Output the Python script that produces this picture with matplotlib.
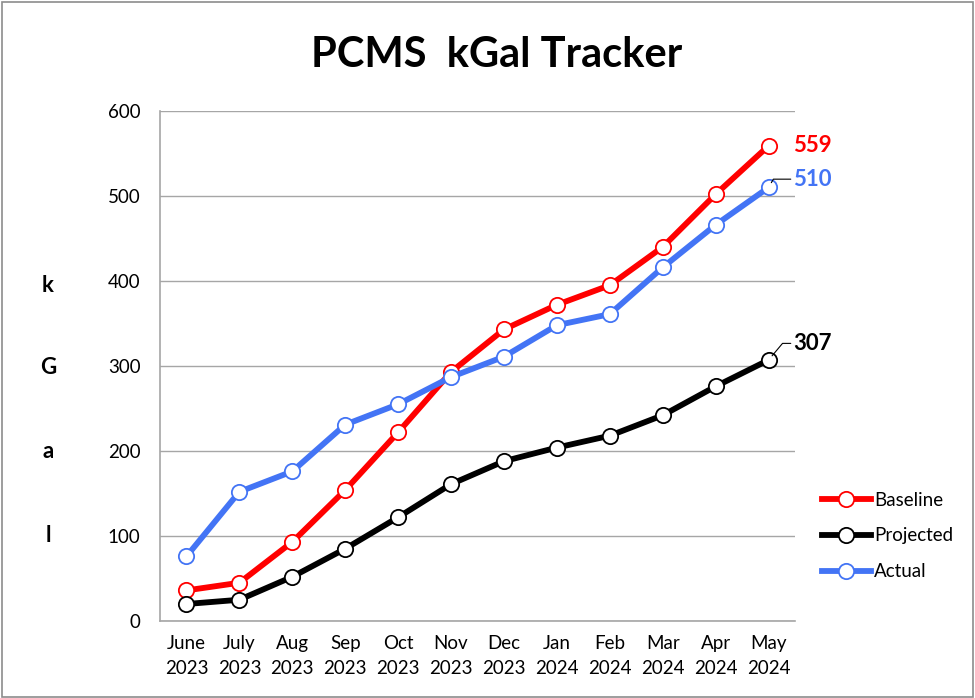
import matplotlib
matplotlib.use("Agg")
import matplotlib.pyplot as plt
from matplotlib.patches import Rectangle

months = ["June\n2023", "July\n2023", "Aug\n2023", "Sep\n2023", "Oct\n2023", "Nov\n2023",
          "Dec\n2023", "Jan\n2024", "Feb\n2024", "Mar\n2024", "Apr\n2024", "May\n2024"]
baseline = [36, 45, 93, 154, 222, 293, 343, 372, 395, 440, 502, 559]
projected = [20, 25, 52, 85, 122, 161, 188, 204, 218, 242, 276, 307]
actual = [76, 152, 176, 231, 255, 287, 311, 348, 361, 416, 466, 510]

plt.rcParams['font.family'] = ['Lato', 'DejaVu Sans']

fig = plt.figure(figsize=(9.75, 6.98), dpi=100)
ax = fig.add_axes([160/975, 1-621/698, (795-160)/975, (621-111)/698])

x = list(range(len(months)))
red = '#FF0000'
blue = '#4374F5'
black = '#000000'
for vals, col, lab in [(baseline, red, 'Baseline'), (projected, black, 'Projected'), (actual, blue, 'Actual')]:
    ax.plot(x, vals, color=col, lw=4.2, marker='o', ms=11, mfc='white', mec=col, mew=1.3,
            label=lab, zorder=3)

ax.set_xlim(-0.5, 11.5)
ax.set_ylim(0, 600)
ax.set_yticks(range(0, 601, 100))
ax.set_xticks(x)
ax.set_xticklabels(months, fontsize=13.5, linespacing=1.55)
ax.tick_params(axis='y', labelsize=13.5, length=0, pad=14)
ax.tick_params(axis='x', length=0, pad=10)
ax.grid(axis='y', color='#A6A6A6', lw=1)
ax.set_axisbelow(True)
for s in ['top', 'right']:
    ax.spines[s].set_visible(False)
for s in ['left', 'bottom']:
    ax.spines[s].set_color('#A6A6A6')
    ax.spines[s].set_linewidth(1.2)

# data labels
ax.annotate(str(baseline[-1]), xy=(11, baseline[-1]), xytext=(18, 0), textcoords='offset points',
            color=red, fontsize=16, fontweight='bold', va='center', ha='left')
ax.annotate(str(actual[-1]), xy=(11, actual[-1]), xytext=(18, 6), textcoords='offset points',
            color=blue, fontsize=16, fontweight='bold', va='center', ha='left',
            arrowprops=dict(arrowstyle='-', color='black', lw=0.8, shrinkA=0, shrinkB=4,
                            connectionstyle='angle,angleA=0,angleB=60,rad=0'))
ax.annotate(str(projected[-1]), xy=(11, projected[-1]), xytext=(18, 12), textcoords='offset points',
            color=black, fontsize=16, fontweight='bold', va='center', ha='left',
            arrowprops=dict(arrowstyle='-', color='black', lw=0.8, shrinkA=0, shrinkB=4,
                            connectionstyle='angle,angleA=0,angleB=50,rad=0'))

# y label letters
for ch, yy in zip(['k', 'G', 'a', 'l'], [285, 368, 452, 535]):
    fig.text(48/975, 1-yy/698, ch, fontsize=16, fontweight='bold', ha='center', va='center')

fig.text(497/975, 1-55/698, 'PCMS  kGal Tracker', fontsize=30, fontweight='bold',
         ha='center', va='center')

leg = ax.legend(loc='center left', bbox_to_anchor=(805/975, 1-536/698), bbox_transform=fig.transFigure,
                frameon=False, fontsize=13.5, handlelength=2.6, labelspacing=1.0, handletextpad=0.2)

fig.patches.append(Rectangle((0.002, 0.002), 0.996, 0.995, transform=fig.transFigure,
                             fill=False, edgecolor='#8C8C8C', lw=1.2))

fig.savefig('out.png', dpi=100)
